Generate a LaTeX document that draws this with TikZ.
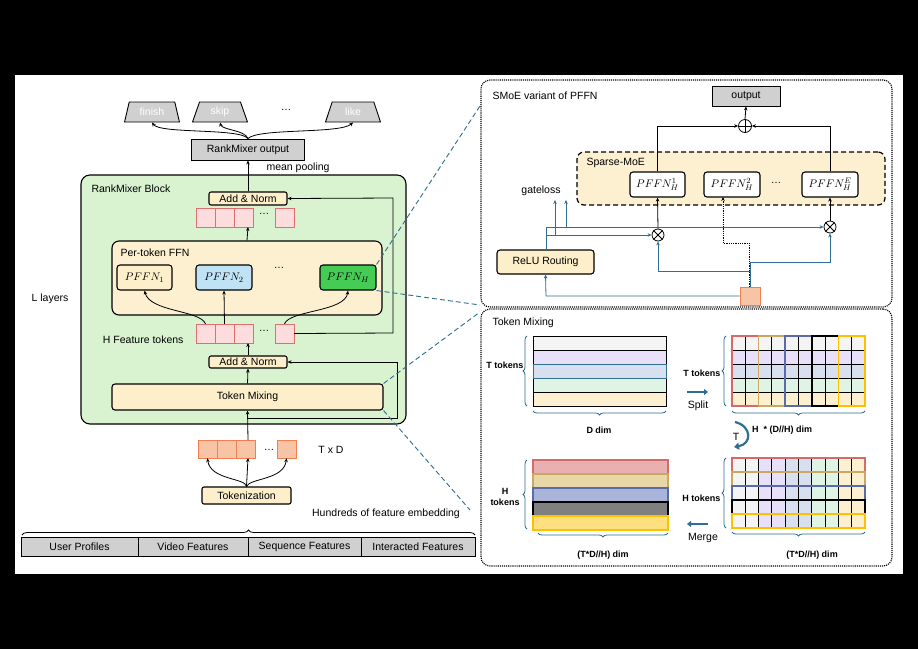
\documentclass[tikz,border=0pt]{standalone}
\usepackage{fontspec}
\setmainfont{Liberation Sans}
\usetikzlibrary{shapes.geometric,arrows.meta,decorations.pathreplacing}
\definecolor{grn}{HTML}{D9F2D0}
\definecolor{crm}{HTML}{FDEFC9}
\definecolor{pk}{HTML}{FCDCDC}
\definecolor{pkd}{HTML}{E07070}
\definecolor{org}{HTML}{F7C4A5}
\definecolor{orgd}{HTML}{F08050}
\definecolor{gry}{HTML}{D0D0D0}
\definecolor{teal}{HTML}{2F6F90}
\definecolor{lblue}{HTML}{BFE2F5}
\definecolor{gH}{HTML}{44CC55}
\definecolor{rc0}{HTML}{F4F4F4}
\definecolor{rc1}{HTML}{E8E0F8}
\definecolor{rc2}{HTML}{D8E0F0}
\definecolor{rc3}{HTML}{DFF4E4}
\definecolor{rc4}{HTML}{FDF0D0}
\definecolor{gc0}{HTML}{D46A6A}
\definecolor{gc1}{HTML}{C9A961}
\definecolor{gc2}{HTML}{5B6BAA}
\definecolor{gc3}{HTML}{000000}
\definecolor{gc4}{HTML}{FFC000}
\definecolor{bf0}{HTML}{E8B0B0}
\definecolor{bf1}{HTML}{E8D8A8}
\definecolor{bf2}{HTML}{A8B4D8}
\definecolor{bf3}{HTML}{808080}
\definecolor{bf4}{HTML}{FFE080}
\tikzset{
  every node/.style={font=\fontsize{10.5}{12}\selectfont},
  box/.style={draw,line width=1.1pt,rounded corners=2pt,fill=crm,inner sep=0pt},
  gbox/.style={draw,line width=0.9pt,fill=gry,inner sep=0pt},
  tok/.style={draw=pkd,fill=pk,minimum width=19pt,minimum height=19pt,inner sep=0pt},
  itok/.style={draw=orgd,fill=org,minimum width=19pt,minimum height=18pt,inner sep=0pt},
  trap/.style={trapezium,trapezium left angle=72,trapezium right angle=72,draw,line width=0.9pt,fill=gry,text=white,minimum width=55pt,minimum height=20pt,inner sep=0pt,trapezium stretches=true},
  arr/.style={-{Stealth[length=4pt,width=3.5pt]},line width=0.8pt},
  tarr/.style={-{Stealth[length=4pt,width=3.5pt]},line width=0.8pt,draw=teal},
  dl/.style={dashed,draw=teal,line width=0.9pt,dash pattern=on 5pt off 3pt},
  brc/.style={decorate,decoration={brace,amplitude=4pt},draw=teal,line width=0.8pt},
  lbl/.style={font=\fontsize{9}{10.5}\selectfont\bfseries},
  cir/.style={circle,draw,line width=0.8pt,minimum size=13pt,inner sep=0pt,fill=white},
  mth/.style={font=\fontsize{11}{12}\selectfont},
}
\begin{document}
\begin{tikzpicture}[x=1pt,y=-1pt]
\fill[black] (0,0) rectangle (918,649);
\fill[white] (15,75) rectangle (903,574);
\useasboundingbox (0,0) rectangle (918,649);

% ---------- left ----------
\node[trap] (fin) at (152,112) {finish};
\node[trap] (skp) at (220,112) {skip};
\node (odots) at (286,110) {\dots};
\node[trap] (lik) at (353,112) {like};
\node[gbox,minimum width=113pt,minimum height=21pt] (rmo) at (248,149.5) {RankMixer output};
\draw[arr] (rmo.north) .. controls (240,128) and (160,134) .. (fin.south);
\draw[arr] (rmo.north) .. controls (245,130) and (222,130) .. (skp.south);
\draw[arr] (rmo.north) .. controls (258,128) and (340,134) .. (lik.south);
\node[anchor=west] (mp) at (263,168) {mean pooling};

\node[draw,line width=1.1pt,rounded corners=9pt,fill=grn,minimum width=325pt,minimum height=249pt] (blk) at (243.5,299.5) {};
\node[anchor=west] (blkl) at (88,189) {RankMixer Block};
\node (ll) at (50,299) {L layers};

\node[box,minimum width=78pt,minimum height=13pt] (an1) at (248,198.5) {Add \& Norm};
\node[tok] (a1) at (205.5,217.5) {};
\node[tok] (a2) at (224.5,217.5) {};
\node[tok] (a3) at (243.5,217.5) {};
\node (adots) at (264,214) {\dots};
\node[tok] (a4) at (284.5,217.5) {};
\draw[arr] (an1.north) -- (rmo.south);

\node[draw,line width=1.1pt,rounded corners=7pt,fill=rc4,minimum width=270pt,minimum height=74pt] (ffn) at (247,278) {};
\node[anchor=west] (ffnl) at (117,253) {Per-token FFN};
\node[box,mth,rounded corners=3pt,minimum width=55pt,minimum height=25pt] (p1) at (144.5,277.5) {$PFFN_1$};
\node[box,mth,rounded corners=3pt,fill=lblue,minimum width=56pt,minimum height=25pt] (p2) at (224,277.5) {$PFFN_2$};
\node (pdots) at (279,268) {\dots};
\node[box,mth,rounded corners=3pt,fill=gH,minimum width=56pt,minimum height=25pt] (pH) at (348,277.5) {$PFFN_H$};
\draw[arr] (ffn.north) -- (248,227);

\node[tok] (h1) at (205.5,333.5) {};
\node[tok] (h2) at (224.5,333.5) {};
\node[tok] (h3) at (243.5,333.5) {};
\node (hdots) at (264,331) {\dots};
\node[tok] (h4) at (284.5,333.5) {};
\node[anchor=east] (hl) at (187,340) {H Feature tokens};
\draw[arr] (h1.north) .. controls (200,310) and (150,312) .. (p1.south);
\draw[arr] (h2.north) -- (p2.south);
\draw[arr] (h4.north) .. controls (290,310) and (345,312) .. (pH.south);
\draw[arr] (h4.east) -- (393,333) -- (393,198) -- (an1.east);

\node[box,minimum width=78pt,minimum height=12pt] (an2) at (248,362) {Add \& Norm};
\draw[arr] (an2.north) -- (248,343);
\node[box,rounded corners=3pt,minimum width=271pt,minimum height=26pt] (tm) at (247.5,397) {Token Mixing};
\draw[arr] (tm.north) -- (an2.south);

\node[itok] (i1) at (207.5,449) {};
\node[itok] (i2) at (226.5,449) {};
\node[itok] (i3) at (246,449) {};
\node (idots) at (269,450) {\dots};
\node[itok] (i4) at (286.5,449) {};
\node (txd) at (331,450) {T x D};
\coordinate (rs) at (248,418);
\draw[arr] (248,440) -- (tm.south);
\draw[arr] (rs) -- (397,418) -- (397,362) -- (an2.east);

\node[box,minimum width=89pt,minimum height=17pt] (tkz) at (246.5,495.5) {Tokenization};
\draw[arr] (tkz.north) .. controls (246,478) and (210,480) .. (i1.south);
\draw[arr] (tkz.north) -- (248,458);
\draw[arr] (tkz.north) .. controls (250,478) and (284,480) .. (i4.south);
\node (hfe) at (386,514) {Hundreds of feature embedding};
\draw[decorate,decoration={brace,amplitude=5pt},line width=0.8pt] (22,535) -- (475,535);
\node[gbox,minimum width=117pt,minimum height=19pt] (b1) at (79.5,546.5) {User Profiles};
\node[gbox,minimum width=110pt,minimum height=19pt] (b2) at (193,546.5) {Video Features};
\node[gbox,minimum width=113pt,minimum height=19pt] (b3) at (304.5,546.5) {Sequence Features};
\node[gbox,minimum width=114pt,minimum height=19pt] (b4) at (418,546.5) {Interacted Features};

% dashed zoom lines
\draw[dl] (pH.north east) -- (480,106);
\draw[dl] (pH.south east) -- (480,305);
\draw[dl] (tm.north east) -- (480,312);
\draw[dl] (tm.south east) -- (470,510);

% ---------- SMoE ----------
\node[draw,densely dotted,line width=1.1pt,rounded corners=9pt,minimum width=411pt,minimum height=227pt] (smoe) at (686.5,193.5) {};
\node[anchor=west] (smoel) at (489,96) {SMoE variant of PFFN};
\node[gbox,minimum width=68pt,minimum height=20pt] (outp) at (746,96) {output};
\node[cir] (plus) at (745,126) {};
\draw[line width=0.8pt] (plus.north)--(plus.south) (plus.west)--(plus.east);
\draw[arr] (plus.north) -- (outp.south);
\node[draw,dashed,line width=1.2pt,dash pattern=on 5pt off 3pt,rounded corners=7pt,fill=rc4,minimum width=308pt,minimum height=53pt] (smb) at (731,178.5) {};
\node[anchor=west] (smbl) at (583,163) {Sparse-MoE};
\node[box,mth,rounded corners=3pt,fill=white,minimum width=55pt,minimum height=25pt] (q1) at (657.5,184.5) {$PFFN_H^1$};
\node[box,mth,rounded corners=3pt,fill=white,minimum width=56pt,minimum height=25pt] (q2) at (732,184.5) {$PFFN_H^2$};
\node (qdots) at (776,183) {\dots};
\node[box,mth,rounded corners=3pt,fill=white,minimum width=56pt,minimum height=25pt] (qE) at (830,184.5) {$PFFN_H^E$};
\draw[arr] (q1.north) -- (657.5,126) -- (plus.west);
\draw[arr] (qE.north) -- (830,126) -- (plus.east);
\node[cir,minimum size=12pt] (x1) at (658,235) {};
\node[cir,minimum size=12pt] (xE) at (830,227) {};
\draw[line width=0.8pt] (x1.north east)--(x1.south west) (x1.north west)--(x1.south east)
  (xE.north east)--(xE.south west) (xE.north west)--(xE.south east);
\draw[arr] (x1.north) -- (q1.south);
\draw[arr] (xE.north) -- (qE.south);
\node[box,rounded corners=3pt,minimum width=97pt,minimum height=24pt] (relu) at (545.5,262) {ReLU Routing};
\node (gl) at (541,191) {gateloss};
\node[draw=orgd,fill=org,line width=0.8pt,minimum width=20pt,minimum height=18pt,inner sep=0pt] (sq) at (750,296) {};
\draw[teal,line width=0.8pt] (546,250) -- (546,227);
\draw[tarr] (546,227) -- (xE.west);
\draw[tarr] (546,235) -- (x1.west);
\draw[tarr] (555,235) -- (555,200);
\draw[tarr] (566,227) -- (566,200);
\draw[tarr] (sq.west) -- (546,296) -- (relu.south);
\draw[tarr] (sq.north) -- (750,262) -- (830,262) -- (xE.south);
\draw[tarr] (750,271) -- (658,271) -- (x1.south);
\draw[arr,densely dotted] (749,287) -- (749,243) -- (723,243) -- (723,197);

% ---------- Token mixing ----------
\node[draw,densely dotted,line width=1.1pt,rounded corners=9pt,minimum width=411pt,minimum height=257pt] (tmx) at (686.5,437.5) {};
\node[anchor=west] (tmxl) at (489,323) {Token Mixing};
% top-left matrix
\foreach \i in {0,...,4}{
  \fill[rc\i] (533,336+14*\i) rectangle (666,350+14*\i);
  \draw[line width=0.7pt] (533,336+14*\i) rectangle (666,350+14*\i);
}
\draw[teal,line width=0.7pt] (533,364) rectangle (666,378);
\draw[brc] (527,406) -- (527,336);
\node[lbl,anchor=east] (tt1) at (527,365) {T tokens};
\draw[brc] (666,411) -- (533,411);
\node[lbl] (ddim) at (599,430) {D dim};
% split arrow
\draw[-{Triangle[length=4pt,width=6pt]},line width=2.2pt,teal] (687,392) -- (708,392);
\node (split) at (698,406) {Split};
% top-right matrix
\foreach \i in {0,...,4}{
  \fill[rc\i] (732,336+14*\i) rectangle (865,350+14*\i);
}
\foreach \j in {1,...,9}{ \draw[line width=1pt] (732+13.3*\j,336) -- (732+13.3*\j,406); }
\foreach \i in {1,...,4}{ \draw[line width=1pt] (732,336+14*\i) -- (865,336+14*\i); }
\foreach \g in {0,...,4}{ \draw[gc\g,line width=1.6pt] (732+26.6*\g,336) rectangle (758.6+26.6*\g,406); }
\draw[brc] (726,406) -- (726,336);
\node[lbl,anchor=east] (tt2) at (724,373) {T tokens};
\draw[brc] (865,411) -- (732,411);
\node[lbl] (hdd) at (782,430) {H \ * (D//H) dim};
% T arrow
\draw[-{Triangle[length=5pt,width=7pt]},line width=2.2pt,teal] (735,422) .. controls (752,426) and (752,444) .. (734,447);
\node (tl) at (736,437) {T};
% bottom-right matrix
\foreach \j in {0,...,9}{
  \pgfmathtruncatemacro{\c}{floor(\j/2)}
  \fill[rc\c] (732+13.3*\j,458) rectangle (745.3+13.3*\j,528);
}
\foreach \j in {1,...,9}{ \draw[line width=1pt] (732+13.3*\j,458) -- (732+13.3*\j,528); }
\foreach \g in {0,...,4}{ \draw[gc\g,line width=1.6pt] (732,458+14*\g) rectangle (865,472+14*\g); }
\draw[brc] (726,528) -- (726,458);
\node[lbl,anchor=east] (ht1) at (724,498) {H tokens};
\draw[brc] (865,532) -- (732,532);
\node[lbl] (td1) at (812,555) {(T*D//H) dim};
% merge arrow
\draw[-{Triangle[length=4pt,width=6pt]},line width=2.2pt,teal] (708,524) -- (687,524);
\node (merge) at (703,538) {Merge};
% bottom-left matrix
\foreach \g in {0,...,4}{
  \fill[bf\g] (533,460+14*\g) rectangle (668,474+14*\g);
  \draw[gc\g,line width=1.6pt] (533,460+14*\g) rectangle (668,474+14*\g);
}
\draw[brc] (527,529) -- (527,460);
\node[lbl,align=center] (ht2) at (505,497) {H\\tokens};
\draw[brc] (668,533) -- (538,533);
\node[lbl] (td2) at (603,555) {(T*D//H) dim};
\end{tikzpicture}
\end{document}
